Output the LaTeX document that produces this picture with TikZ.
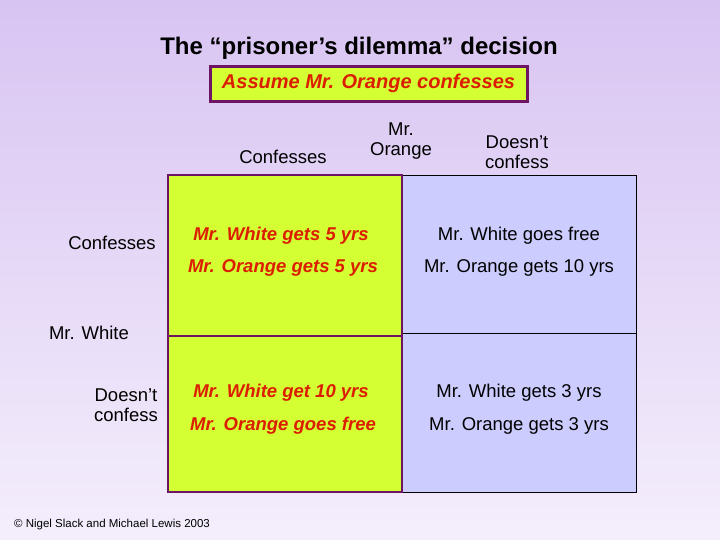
\documentclass[tikz,border=0pt]{standalone}
\usepackage{fontspec}
\setmainfont{Liberation Sans}
\begin{document}
\begin{tikzpicture}[x=1pt,y=-1pt,
  lbl/.style={font=\fontsize{18.5}{19.5}\selectfont, align=center},
  red/.style={lbl, font=\fontsize{18.5}{19.5}\selectfont\bfseries\itshape, text={rgb,255:red,220;green,30;blue,0}},
  gcell/.style={draw={rgb,255:red,110;green,20;blue,100}, line width=2.5pt, fill={rgb,255:red,212;green,255;blue,51}},
  bcell/.style={draw=black, line width=0.6pt, fill={rgb,255:red,204;green,204;blue,255}}]
\useasboundingbox (0,0) rectangle (720,540);
\shade[top color={rgb,255:red,216;green,196;blue,242}, bottom color={rgb,255:red,244;green,238;blue,252}] (0,0) rectangle (720,540);
\node[font=\fontsize{24}{26}\selectfont\bfseries] (title) at (359,48) {The “prisoner’s dilemma” decision};
\draw[gcell, line width=3pt] (210,67) rectangle (527,102);
\node[red, font=\fontsize{20}{22}\selectfont\bfseries\itshape] (assume) at (368.5,83) {Assume Mr. Orange confesses};
\draw[bcell] (402,175) rectangle (636,333);
\draw[bcell] (402,333) rectangle (636,492);
\draw[gcell] (168,175) rectangle (402,336);
\draw[gcell] (168,336) rectangle (402,492);
\node[lbl] (oc) at (283,157) {Confesses};
\node[lbl] (mo) at (401,141) {Mr.\\Orange};
\node[lbl] (od) at (517,152) {Doesn’t\\confess};
\node[lbl] (wc) at (112,243) {Confesses};
\node[lbl] (mw) at (89,333) {Mr. White};
\node[lbl] (wd) at (126,405) {Doesn’t\\confess};
\node[red] (a1) at (281,236) {Mr. White gets 5 yrs};
\node[red] (a2) at (283,268) {Mr. Orange gets 5 yrs};
\node[lbl] (b1) at (519,236) {Mr. White goes free};
\node[lbl] (b2) at (519,268) {Mr. Orange gets 10 yrs};
\node[red] (c1) at (281,393) {Mr. White get 10 yrs};
\node[red] (c2) at (283,426) {Mr. Orange goes free};
\node[lbl] (d1) at (519,393) {Mr. White gets 3 yrs};
\node[lbl] (d2) at (519,426) {Mr. Orange gets 3 yrs};
\node[font=\fontsize{11.5}{12}\selectfont] (copy) at (112,525) {© Nigel Slack and Michael Lewis 2003};
\end{tikzpicture}
\end{document}
